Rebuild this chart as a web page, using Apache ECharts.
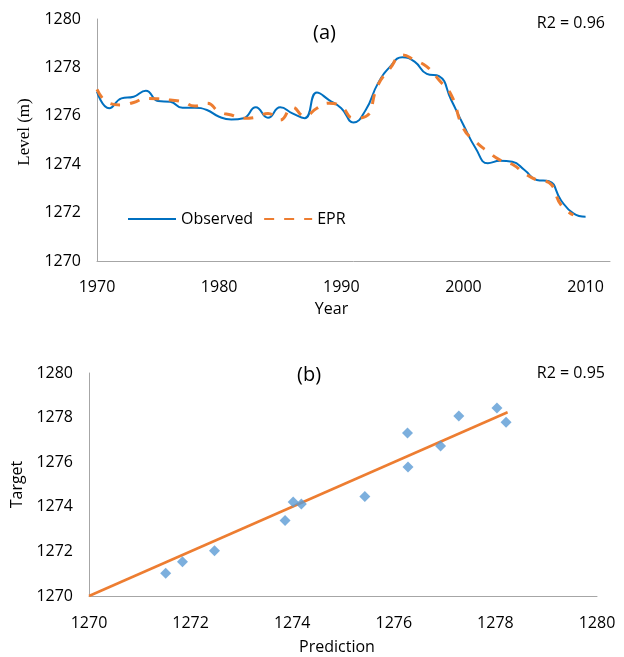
<!DOCTYPE html>
<html>
<head>
<meta charset="utf-8">
<script src="https://cdn.jsdelivr.net/npm/echarts@6/dist/echarts.min.js"></script>
<style>html,body{margin:0;padding:0;background:#fff}#c{width:624px;height:657px}</style>
</head>
<body>
<div id="c"></div>
<script>
// ---- Data: panel (a) ----
var years = [1970,1971,1972,1973,1974,1975,1976,1977,1978,1979,1980,1981,1982,1983,1984,1985,1986,1987,1988,1989,1990,1991,1992,1993,1994,1995,1996,1997,1998,1999,2000,2001,2002,2003,2004,2005,2006,2007,2008,2009,2010];
var observed = [1277.0,1276.31,1276.72,1276.79,1277.04,1276.61,1276.58,1276.33,1276.33,1276.24,1275.96,1275.85,1275.9,1276.35,1275.92,1276.35,1276.1,1275.9,1276.96,1276.65,1276.31,1275.72,1276.24,1277.34,1278.03,1278.42,1278.24,1277.73,1277.64,1276.65,1275.62,1274.66,1274.04,1274.14,1274.1,1273.76,1273.35,1273.3,1272.5,1271.97,1271.83];
var epr = [1277.09,1276.52,1276.45,1276.55,1276.72,1276.7,1276.65,1276.58,1276.4,1276.52,1276.17,1276.03,1275.9,1275.94,1276.1,1275.83,1276.35,1275.98,1276.31,1276.52,1276.38,1275.9,1275.97,1277.27,1277.96,1278.51,1278.3,1278.03,1277.48,1276.86,1275.48,1274.93,1274.52,1274.17,1274.0,1273.62,1273.35,1273.24,1272.31,1271.9];
var levelTicks = [1270,1272,1274,1276,1278,1280];
var yearTicks = [1970,1980,1990,2000,2010];

// ---- Data: panel (b) ----
var prediction = [1271.51,1271.84,1272.47,1273.86,1274.02,1274.18,1275.43,1276.27,1276.28,1276.92,1277.28,1278.03,1278.21];
var target =     [1271.02,1271.54,1272.03,1273.39,1274.21,1274.12,1274.46,1277.31,1275.79,1276.73,1278.07,1278.43,1277.79];
var trendEnds = [1270, 1278.24];
var scatterTicks = [1270,1272,1274,1276,1278,1280];

var FONT = '"Open Sans", sans-serif';
var AX = '#A6A6A6';
var TXT = '#000000';

function pairs(xs, ys) { var r = []; for (var i = 0; i < ys.length; i++) r.push([xs[i], ys[i]]); return r; }
function plain(v) { return String(v); }

var chart = echarts.init(document.getElementById('c'), null, {renderer: 'canvas'});
var option = {
  backgroundColor: '#ffffff',
  animation: false,
  textStyle: {fontFamily: FONT},
  grid: [
    {left: 97, top: 19, width: 513, height: 242},
    {left: 89, top: 373, width: 508, height: 223}
  ],
  xAxis: [
    {
      gridIndex: 0, type: 'value', min: 1970, max: 2012, interval: 10,
      axisLine: {lineStyle: {color: AX, width: 1}}, axisTick: {show: false}, splitLine: {show: false},
      axisLabel: {color: TXT, fontSize: 16, fontFamily: FONT, margin: 18,
        formatter: function (v) { return yearTicks.indexOf(v) >= 0 ? String(v) : ''; }},
      name: 'Year', nameLocation: 'middle', nameGap: 40,
      nameTextStyle: {color: TXT, fontSize: 16, fontFamily: FONT, padding: [0, 44, 0, 0]}
    },
    {
      gridIndex: 1, type: 'value', min: scatterTicks[0], max: scatterTicks[scatterTicks.length - 1], interval: 2,
      axisLine: {lineStyle: {color: AX, width: 1}}, axisTick: {show: false}, splitLine: {show: false},
      axisLabel: {color: TXT, fontSize: 16, fontFamily: FONT, margin: 19, formatter: plain},
      name: 'Prediction', nameLocation: 'middle', nameGap: 43,
      nameTextStyle: {color: TXT, fontSize: 16, fontFamily: FONT, padding: [0, 12, 0, 0]}
    }
  ],
  yAxis: [
    {
      gridIndex: 0, type: 'value', min: levelTicks[0], max: levelTicks[levelTicks.length - 1], interval: 2,
      axisLine: {show: true, lineStyle: {color: AX, width: 1}}, axisTick: {show: false}, splitLine: {show: false},
      axisLabel: {color: TXT, fontSize: 16, fontFamily: FONT, margin: 16, formatter: plain},
      name: 'Level (m)', nameLocation: 'middle', nameGap: 64,
      nameTextStyle: {color: TXT, fontSize: 17, fontFamily: '"Liberation Serif", serif', padding: [0, 0, 0, 16]}
    },
    {
      gridIndex: 1, type: 'value', min: scatterTicks[0], max: scatterTicks[scatterTicks.length - 1], interval: 2,
      axisLine: {show: true, lineStyle: {color: AX, width: 1}}, axisTick: {show: false}, splitLine: {show: false},
      axisLabel: {color: TXT, fontSize: 16, fontFamily: FONT, margin: 16, formatter: plain},
      name: 'Target', nameLocation: 'middle', nameGap: 64,
      nameTextStyle: {color: TXT, fontSize: 16, fontFamily: FONT}
    }
  ],
  legend: {
    left: 127, top: 211, padding: 0, itemWidth: 48, itemHeight: 14, itemGap: 10,
    itemStyle: {opacity: 0},
    textStyle: {color: TXT, fontSize: 16, fontFamily: FONT, padding: [0, 0, 0, 0]},
    data: ['Observed', 'EPR']
  },
  series: [
    {
      name: 'Observed', type: 'line', xAxisIndex: 0, yAxisIndex: 0, smooth: 0.5,
      symbol: 'none', data: pairs(years, observed),
      lineStyle: {color: '#0070C0', width: 2}, itemStyle: {color: '#0070C0'}
    },
    {
      name: 'EPR', type: 'line', xAxisIndex: 0, yAxisIndex: 0, smooth: 0.5,
      symbol: 'none', data: pairs(years, epr), z: 3,
      lineStyle: {color: '#ED7D31', width: 3, type: [10, 10]}, itemStyle: {color: '#ED7D31'}
    },
    {
      name: 'Trend', type: 'line', xAxisIndex: 1, yAxisIndex: 1,
      symbol: 'none', data: pairs(trendEnds, trendEnds),
      lineStyle: {color: '#ED7D31', width: 2.5}, itemStyle: {color: '#ED7D31'}, z: 2
    },
    {
      name: 'Points', type: 'scatter', xAxisIndex: 1, yAxisIndex: 1,
      symbol: 'diamond', symbolSize: 11, data: pairs(prediction, target),
      itemStyle: {color: '#5B9BD5'}, z: 3
    }
  ],
  graphic: [
    {type: 'text', left: 313, top: 23, style: {text: '(a)', fontSize: 20, fontFamily: FONT, fill: TXT}},
    {type: 'text', right: 19, top: 15, style: {text: 'R2 = 0.96', fontSize: 16, fontFamily: FONT, fill: TXT}},
    {type: 'text', left: 297, top: 365, style: {text: '(b)', fontSize: 20, fontFamily: FONT, fill: TXT}},
    {type: 'text', right: 19, top: 365, style: {text: 'R2 = 0.95', fontSize: 16, fontFamily: FONT, fill: TXT}}
  ]
};
chart.setOption(option);
</script>
</body>
</html>
